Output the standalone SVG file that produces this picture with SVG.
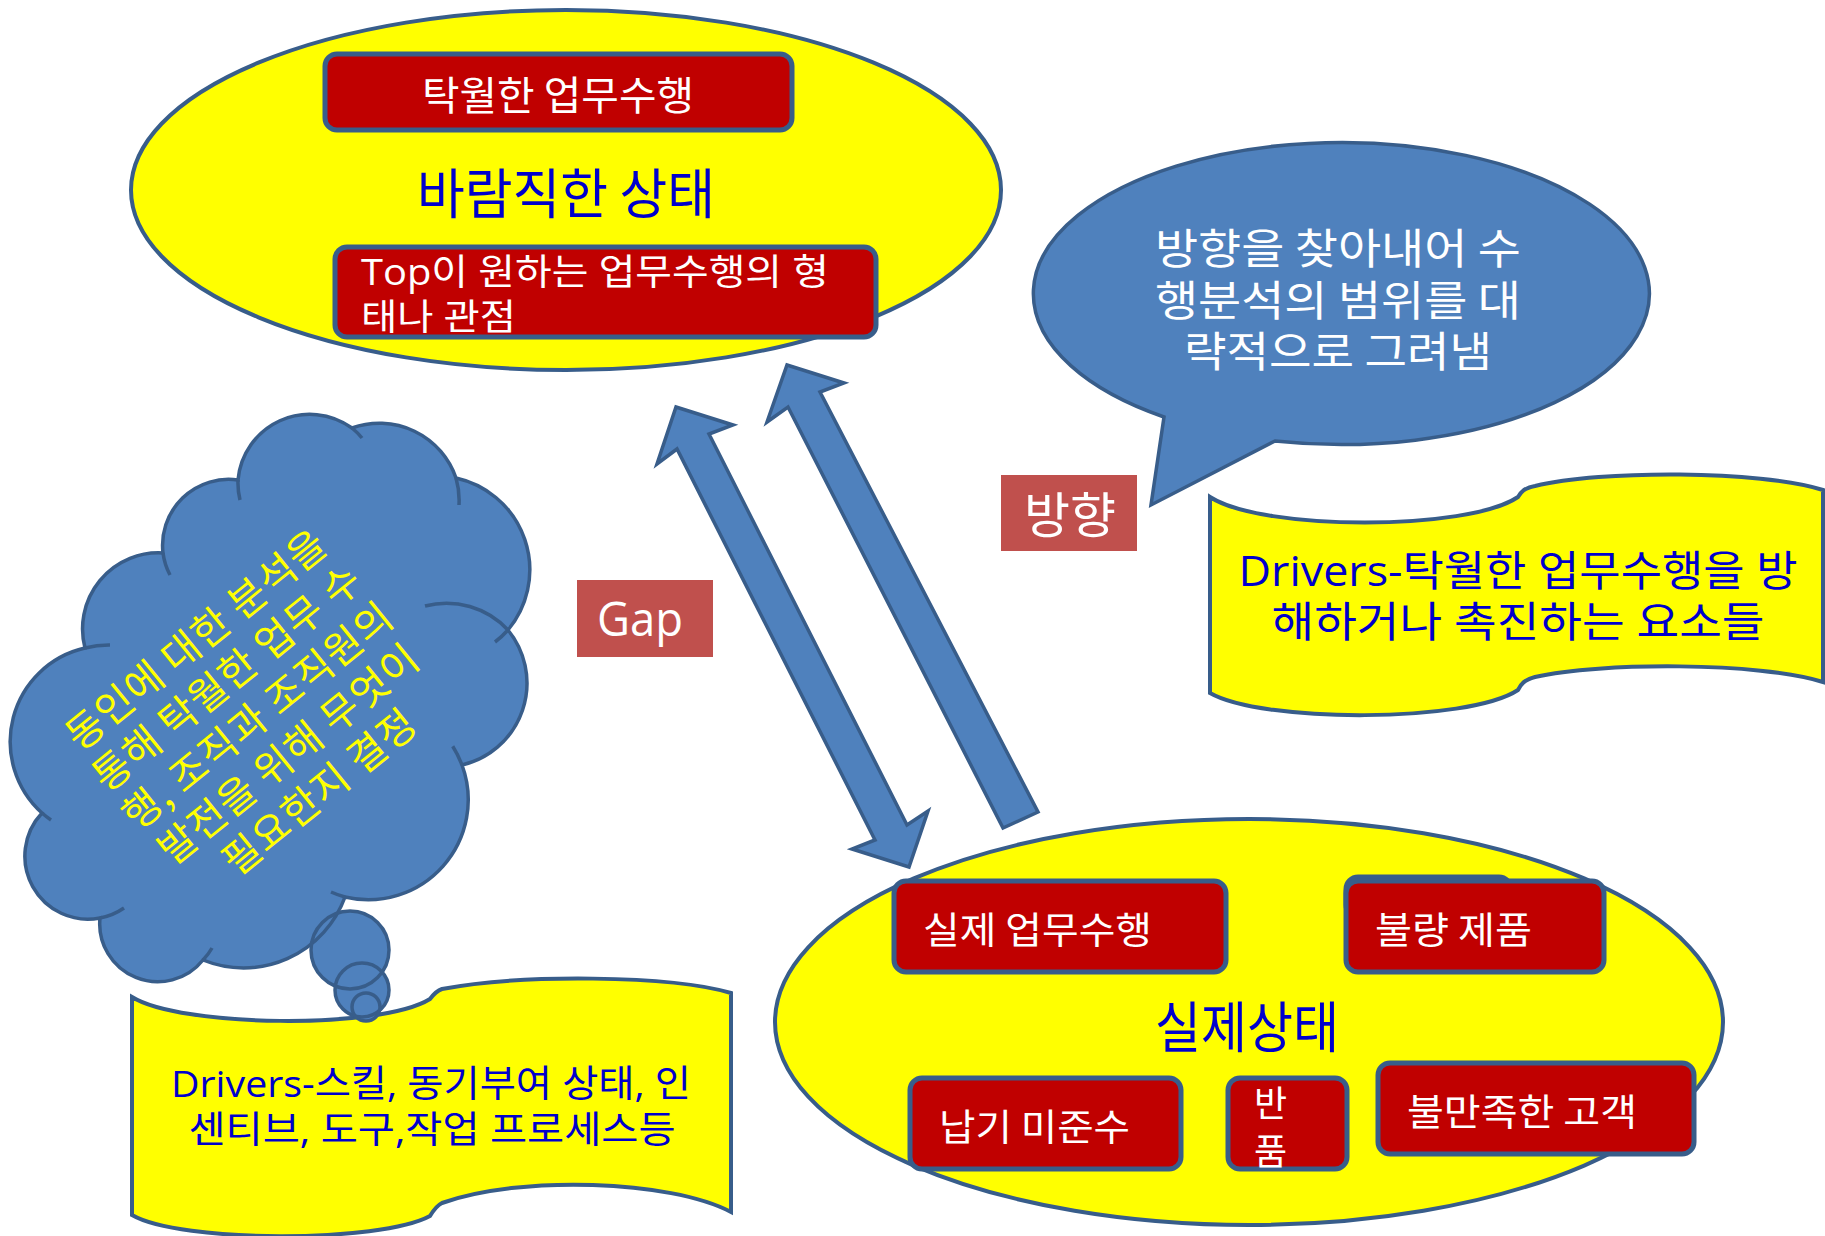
<svg xmlns="http://www.w3.org/2000/svg" width="1825" height="1236" viewBox="0 0 1825 1236">
<style>
.ell{fill:#FFFF00;stroke:#385D8A;stroke-width:4}
.rbox{fill:#C00000;stroke:#385D8A;stroke-width:5}
.blue{fill:#4F81BD;stroke:#385D8A;stroke-width:3.5;stroke-linejoin:miter}
.bfill{fill:#4F81BD;stroke:none}
.bstroke{fill:none;stroke:#385D8A;stroke-width:3.5}
.lab{fill:#C0504D}
.kr{font-family:'Noto Sans CJK KR','Noto Sans CJK SC',sans-serif}
.mix{font-family:'Open Sans','Noto Sans CJK KR',sans-serif}
.w{fill:#FFFFFF}
.b{fill:#0000CC}
.y{fill:#FFFF00}
</style>
<rect width="1825" height="1236" fill="#FFFFFF"/>

<g id="desired-state">
  <ellipse class="ell" cx="566" cy="190" rx="435" ry="180"/>
  <text class="kr b" x="566" y="214" font-size="54" text-anchor="middle" textLength="298" lengthAdjust="spacingAndGlyphs">바람직한 상태</text>
</g>
<g id="excellent-performance">
  <rect class="rbox" x="325" y="54" width="467" height="76" rx="12"/>
  <text class="kr w" x="558" y="110" font-size="40" text-anchor="middle" textLength="272" lengthAdjust="spacingAndGlyphs">탁월한 업무수행</text>
</g>
<g id="top-view">
  <rect class="rbox" x="335" y="247" width="541" height="90" rx="12"/>
  <text class="mix w" x="361" y="285" font-size="36" textLength="468" lengthAdjust="spacingAndGlyphs">Top이 원하는 업무수행의 형</text>
  <text class="mix w" x="361" y="330" font-size="36" textLength="155" lengthAdjust="spacingAndGlyphs">태나 관점</text>
</g>

<g id="direction-bubble">
  <path class="blue" d="M1164,417 L1151,505 L1275,441 A308 151 0 1 0 1164,417 Z"/>
  <text class="kr w" x="1338" y="264" font-size="42" text-anchor="middle" textLength="366" lengthAdjust="spacingAndGlyphs">방향을 찾아내어 수</text>
  <text class="kr w" x="1338" y="316" font-size="42" text-anchor="middle" textLength="366" lengthAdjust="spacingAndGlyphs">행분석의 범위를 대</text>
  <text class="kr w" x="1338" y="367" font-size="42" text-anchor="middle" textLength="308" lengthAdjust="spacingAndGlyphs">략적으로 그려냄</text>
</g>

<g id="label-direction">
  <rect class="lab" x="1001" y="475" width="136" height="76"/>
  <text class="kr w" x="1070" y="533" font-size="49" text-anchor="middle" textLength="92" lengthAdjust="spacingAndGlyphs">방향</text>
</g>
<g id="label-gap">
  <rect class="lab" x="577" y="580" width="136" height="77"/>
  <text class="mix w" x="640" y="636" font-size="48" text-anchor="middle" textLength="86" lengthAdjust="spacingAndGlyphs">Gap</text>
</g>

<g id="drivers-right">
  <path class="ell" d="M1210,497 C1262,531 1468,531 1518,497 C1521,492 1524,488 1535,486 C1600,470 1760,470 1823,490 L1823,682 C1760,662 1600,662 1535,677 C1524,680 1521,684 1518,690 C1468,723 1262,723 1210,693 Z"/>
  <text class="mix b" x="1518" y="586" font-size="42" text-anchor="middle" textLength="559" lengthAdjust="spacingAndGlyphs">Drivers-탁월한 업무수행을 방</text>
  <text class="mix b" x="1518" y="637" font-size="42" text-anchor="middle" textLength="493" lengthAdjust="spacingAndGlyphs">해하거나 촉진하는 요소들</text>
</g>

<g id="drivers-left">
  <path class="ell" d="M132,997 C180,1027 380,1030 430,999 C433,995 436,991 442,989 C520,974 670,975 731,993 L731,1212 C670,1180 520,1175 442,1203 C436,1206 433,1211 430,1216 C380,1243 180,1243 132,1215 Z"/>
  <text class="mix b" x="431" y="1097" font-size="37" text-anchor="middle" textLength="520" lengthAdjust="spacingAndGlyphs">Drivers-스킬, 동기부여 상태, 인</text>
  <text class="mix b" x="432" y="1143" font-size="37" text-anchor="middle" textLength="487" lengthAdjust="spacingAndGlyphs">센티브, 도구,작업 프로세스등</text>
</g>

<g id="thought-cloud">
  <path class="bfill" d="M85,648 A76 76 0 0 1 163,553 A66 66 0 0 1 238,480 A72 72 0 0 1 352,428 A81 81 0 0 1 456,478 A94 94 0 0 1 508,630 A84 84 0 0 1 462,765 A100 100 0 0 1 345,897 A108 108 0 0 1 203,960 A58 58 0 0 1 100,918 A63 63 0 0 1 42,813 A96 96 0 0 1 85,648 Z"/>
  <circle class="bfill" cx="350" cy="950" r="39"/>
  <circle class="bfill" cx="362" cy="990" r="27"/>
  <circle class="bfill" cx="366" cy="1007" r="14"/>
  <path class="bstroke" d="M85,648 A76 76 0 0 1 163,553 A66 66 0 0 1 238,480 A72 72 0 0 1 352,428 A81 81 0 0 1 456,478 A94 94 0 0 1 508,630 A84 84 0 0 1 462,765 A100 100 0 0 1 345,897 A108 108 0 0 1 203,960 A58 58 0 0 1 100,918 A63 63 0 0 1 42,813 A96 96 0 0 1 85,648 Z"/>
  <path class="bstroke" d="M85,648 A96 96 0 0 1 110,645 M170,575 A66 66 0 0 1 163,553 M240,500 A72 72 0 0 1 238,480 M352,428 A72 72 0 0 1 362,438 M456,478 A81 81 0 0 1 459,505 M425,606 A84 84 0 0 1 508,630 M508,630 A94 94 0 0 1 495,642 M452.7,746.2 A100 100 0 0 1 462,765 M345,897 A100 100 0 0 1 331,892 M212,948 A58 58 0 0 1 203,960 M124,908 A63 63 0 0 1 100,918 M51,820 A96 96 0 0 1 42,813"/>
  <circle class="bstroke" cx="350" cy="950" r="39"/>
  <circle class="bstroke" cx="362" cy="990" r="27"/>
  <circle class="bstroke" cx="366" cy="1007" r="14"/>
  <g transform="translate(258,716) rotate(-39)">
    <text class="kr y" x="0" y="-84" font-size="40" text-anchor="middle" letter-spacing="1">동인에 대한 분석을</text>
    <text class="kr y" x="0" y="-35" font-size="40" text-anchor="middle" letter-spacing="1">통해 탁월한 업무 수</text>
    <text class="kr y" x="0" y="14" font-size="40" text-anchor="middle" letter-spacing="1">행, 조직과 조직원의</text>
    <text class="kr y" x="0" y="63" font-size="40" text-anchor="middle" letter-spacing="1">발전을 위해 무엇이</text>
    <text class="kr y" x="0" y="112" font-size="40" text-anchor="middle" letter-spacing="1">필요한지 결정</text>
  </g>
</g>

<g id="actual-state">
  <ellipse class="ell" cx="1249" cy="1022" rx="474" ry="203"/>
  <text class="kr b" x="1247" y="1047" font-size="55" text-anchor="middle" textLength="184" lengthAdjust="spacingAndGlyphs">실제상태</text>
</g>
<g id="actual-performance">
  <rect class="rbox" x="894" y="881" width="332" height="91" rx="12"/>
  <text class="kr w" x="923" y="944" font-size="37" textLength="229" lengthAdjust="spacingAndGlyphs">실제 업무수행</text>
</g>
<g id="defective-products">
  <rect class="rbox" x="1346" y="877" width="165" height="40" rx="12"/>
  <rect class="rbox" x="1346" y="881" width="258" height="91" rx="12"/>
  <text class="kr w" x="1375" y="944" font-size="37" textLength="157" lengthAdjust="spacingAndGlyphs">불량 제품</text>
</g>
<g id="missed-deadlines">
  <rect class="rbox" x="910" y="1078" width="271" height="91" rx="12"/>
  <text class="kr w" x="939" y="1141" font-size="37" textLength="191" lengthAdjust="spacingAndGlyphs">납기 미준수</text>
</g>
<g id="returns">
  <rect class="rbox" x="1228" y="1078" width="119" height="91" rx="12"/>
  <text class="kr w" x="1254" y="1117" font-size="36">반</text>
  <text class="kr w" x="1254" y="1165" font-size="36">품</text>
</g>
<g id="unhappy-customers">
  <rect class="rbox" x="1378" y="1063" width="316" height="91" rx="12"/>
  <text class="kr w" x="1407" y="1126" font-size="37" textLength="230" lengthAdjust="spacingAndGlyphs">불만족한 고객</text>
</g>

<g id="connectors">
  <polygon class="blue" points="676,407 733,425 709,434 907,825 928,811 909,867 852,849 875,840 677,449 657,464"/>
  <polygon class="blue" points="787,365 844,383 820,392 1038,812 1003,828 788,407 767,422"/>
</g>
</svg>
